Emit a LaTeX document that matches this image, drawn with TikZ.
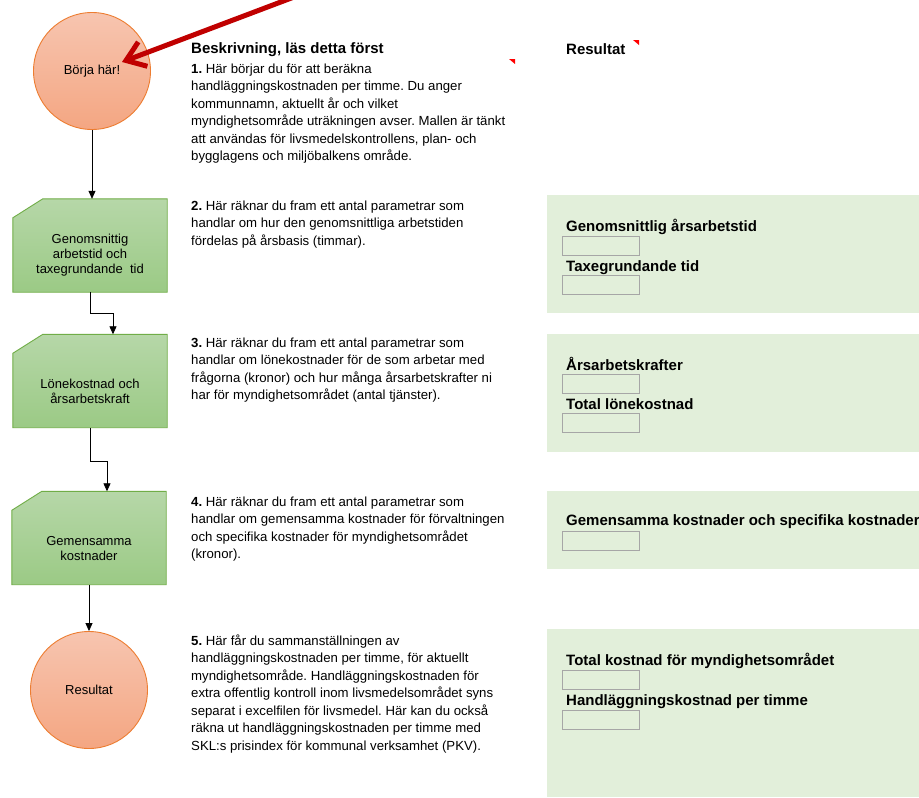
\documentclass[tikz,border=0pt]{standalone}
\usepackage{fontspec}
\setmainfont{Liberation Sans}
\usepackage{xcolor}
\usepackage{tikz}
\usetikzlibrary{calc,arrows.meta}
\frenchspacing
\definecolor{hintred}{HTML}{C00000}
\definecolor{marker}{HTML}{FF0000}
\definecolor{salmontop}{HTML}{F7C5B0}
\definecolor{salmonbot}{HTML}{F4A682}
\definecolor{orangeline}{HTML}{ED7D31}
\definecolor{greentop}{HTML}{B6D7A8}
\definecolor{greenbot}{HTML}{9BCA85}
\definecolor{greenline}{HTML}{70AD47}
\definecolor{panel}{HTML}{E2EFDA}
\definecolor{fieldline}{HTML}{A6A6A6}
\tikzset{
  terminal/.style={circle, draw=orangeline, line width=0.9pt, top color=salmontop, bottom color=salmonbot, minimum size=117pt, inner sep=0pt, font=\fontsize{13}{15}\selectfont},
  card/.style={rectangle, minimum width=154pt, minimum height=93pt, inner sep=0pt},
  cardface/.style={draw=greenline, line width=0.9pt, top color=greentop, bottom color=greenbot},
  cardtext/.style={align=center, inner sep=0pt, font=\fontsize{13}{15}\selectfont},
  flow/.style={draw=black, line width=0.8pt, -{Triangle[length=8pt,width=7pt]}},
  hint/.style={draw=hintred, line width=5pt, -{Straight Barb[length=18pt,width=26pt]}},
  body/.style={anchor=base west, align=left, inner sep=0pt, font=\fontsize{13.2}{17.5}\selectfont},
  head/.style={anchor=base west, inner sep=0pt, font=\fontsize{15}{18}\selectfont\bfseries},
  fieldbox/.style={draw=fieldline, line width=1.3pt, minimum width=77pt, minimum height=19pt, inner sep=0pt, anchor=north west},
}
% card outline with the cut top-left corner, round a named frame node
\newcommand{\cardshape}[1]{%
  \path[cardface] ([yshift=-19pt]#1.north west) -- ([xshift=30pt]#1.north west) -- (#1.north east) -- (#1.south east) -- (#1.south west) -- cycle;}
\begin{document}
\begin{tikzpicture}[x=1pt,y=-1pt]
  \useasboundingbox[fill=white] (0,0) rectangle (919,798);

  % result panels on the right
  \fill[panel] (547,195) rectangle (925,313);
  \fill[panel] (547,334) rectangle (925,452);
  \fill[panel] (547,491) rectangle (925,569);
  \fill[panel] (547,629) rectangle (925,797);

  % flow chart
  \node[terminal] (start) at (92,71) {Börja här!};
  \node[card] (gen) at (90,245.5) {};
  \node[card] (lon) at (90,381) {};
  \node[card] (gem) at (89,538) {};
  \cardshape{gen}
  \cardshape{lon}
  \cardshape{gem}
  \node[cardtext] (genT) at ([yshift=-10pt]gen.center) {Genomsnittig\\arbetstid och\\taxegrundande\ \ tid};
  \node[cardtext] (lonT) at ([yshift=-10pt]lon.center) {Lönekostnad och\\årsarbetskraft};
  \node[cardtext] (gemT) at ([yshift=-11pt]gem.center) {Gemensamma\\kostnader};
  \node[terminal] (res) at (89,690) {Resultat};

  \draw[flow] (start) -- (start |- gen.north);
  \draw[flow] (gen.south) -- ++(0,21) -| ([xshift=23pt]lon.north);
  \draw[flow] (lon.south) -- ++(0,34) -| ([xshift=18pt]gem.north);
  \draw[flow] (gem) -- (res);

  % red pointer into the start circle
  \coordinate (hintfrom) at (302,-6);
  \coordinate (aim) at ($(start)+(30,-9)$);
  \draw[hint] (hintfrom) -- (aim);

  % description column (base = last line)
  \node[head] (desc) at (191,53) {Beskrivning, läs detta först};
  \node[body] (s1) at (191,160.5) {\textbf{1.} Här börjar du för att beräkna\\handläggningskostnaden per timme. Du anger\\kommunnamn, aktuellt år och vilket\\myndighetsområde uträkningen avser. Mallen är tänkt\\att användas för livsmedelskontrollens, plan- och\\bygglagens och miljöbalkens område.};
  \node[body] (s2) at (191,245) {\textbf{2.} Här räknar du fram ett antal parametrar som\\handlar om hur den genomsnittliga arbetstiden\\fördelas på årsbasis (timmar).};
  \node[body] (s3) at (191,399.5) {\textbf{3.} Här räknar du fram ett antal parametrar som\\handlar om lönekostnader för de som arbetar med\\frågorna (kronor) och hur många årsarbetskrafter ni\\har för myndighetsområdet (antal tjänster).};
  \node[body] (s4) at (191,558.5) {\textbf{4.} Här räknar du fram ett antal parametrar som\\handlar om gemensamma kostnader för förvaltningen\\och specifika kostnader för myndighetsområdet\\(kronor).};
  \node[body] (s5) at (191,750) {\textbf{5.} Här får du sammanställningen av\\handläggningskostnaden per timme, för aktuellt\\myndighetsområde. Handläggningskostnaden för\\extra offentlig kontroll inom livsmedelsområdet syns\\separat i excelfilen för livsmedel. Här kan du också\\räkna ut handläggningskostnaden per timme med\\SKL:s prisindex för kommunal verksamhet (PKV).};

  % comment markers
  \fill[marker] (509,59) -- (515,59) -- (515,64) -- cycle;
  \fill[marker] (633,40) -- (639,40) -- (639,45) -- cycle;

  % result column
  \node[head] (restitle) at (566,54) {Resultat};
  \node[head] (f1) at (566,231) {Genomsnittlig årsarbetstid};
  \node[fieldbox] (b1) at (562,236) {};
  \node[head] (f2) at (566,271) {Taxegrundande tid};
  \node[fieldbox] (b2) at (562,275) {};
  \node[head] (f3) at (566,370) {Årsarbetskrafter};
  \node[fieldbox] (b3) at (562,374) {};
  \node[head] (f4) at (566,409) {Total lönekostnad};
  \node[fieldbox] (b4) at (562,413) {};
  \node[head] (f5) at (566,525) {Gemensamma kostnader och specifika kostnader};
  \node[fieldbox] (b5) at (562,531) {};
  \node[head] (f6) at (566,665) {Total kostnad för myndighetsområdet};
  \node[fieldbox] (b6) at (562,670) {};
  \node[head] (f7) at (566,705) {Handläggningskostnad per timme};
  \node[fieldbox] (b7) at (562,710) {};
\end{tikzpicture}
\end{document}
